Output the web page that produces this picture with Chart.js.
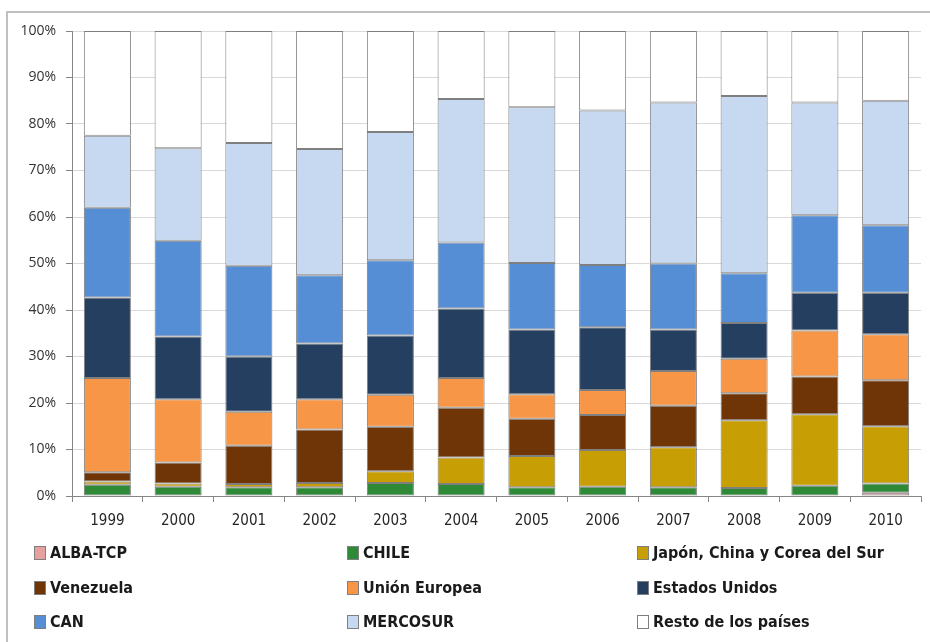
<!DOCTYPE html>
<html lang="es">
<head>
<meta charset="utf-8">
<title>Destino de las exportaciones</title>
<script src="https://cdn.jsdelivr.net/npm/chart.js@4"></script>
<style>
    html, body {
        margin: 0;
        padding: 0;
        background: #ffffff;
    }

    #marco {
        position: absolute;
        left: 6px;
        top: 11px;
        width: 940px;
        height: 650px;
        border-left: 2px solid #c0c0c0;
        border-top: 2px solid #c0c0c0;
    }

    #contenedor {
        position: absolute;
        left: 0;
        top: 0;
        width: 930px;
        height: 560px;
    }

    #leyenda {
        position: absolute;
        left: 0;
        top: 540px;
        width: 930px;
        height: 100px;
        font-family: "Liberation Sans Narrow", "DejaVu Sans Condensed", sans-serif;
        font-weight: bold;
        font-size: 16px;
        color: #1a1a1a;
    }

    .item {
        position: absolute;
        display: flex;
        align-items: center;
        white-space: nowrap;
    }

    .cuadro {
        width: 10px;
        height: 12px;
        border: 1px solid #7f7f7f;
        margin-right: 4px;
    }
</style>
</head>
<body>
<div id="marco"></div>
<div id="contenedor"><canvas id="graficoDestinos"></canvas></div>
<div id="leyenda"></div>

<script>
const anios = ["1999", "2000", "2001", "2002", "2003", "2004", "2005", "2006", "2007", "2008", "2009", "2010"];

const albaTcp      = [0, 0, 0, 0, 0, 0, 0, 0, 0, 0, 0, 0.7];
const chile        = [2.4, 2.0, 1.9, 1.9, 2.8, 2.6, 1.9, 2.0, 1.9, 1.7, 2.2, 2.0];
const asia         = [0.7, 0.7, 0.7, 0.9, 2.5, 5.7, 6.7, 7.9, 8.6, 14.6, 15.4, 12.3];
const venezuela    = [2.0, 4.5, 8.2, 11.5, 9.6, 10.7, 8.0, 7.5, 8.9, 5.8, 8.1, 9.9];
const unionEuropea = [20.3, 13.6, 7.3, 6.5, 6.9, 6.4, 5.3, 5.4, 7.5, 7.4, 9.9, 9.9];
const estadosUnidos = [17.3, 13.5, 11.9, 12.0, 12.7, 14.9, 13.9, 13.5, 8.9, 7.7, 8.1, 8.9];
const can          = [19.3, 20.6, 19.5, 14.7, 16.2, 14.2, 14.3, 13.4, 14.2, 10.7, 16.7, 14.5];
const mercosur     = [15.5, 19.9, 26.4, 27.1, 27.6, 30.9, 33.5, 33.2, 34.6, 38.1, 24.2, 26.8];
const resto        = [22.5, 25.2, 24.1, 25.4, 21.7, 14.6, 16.4, 17.1, 15.4, 14.0, 15.4, 15.0];

const nombresSeries = [
    "ALBA-TCP", "CHILE", "Japón, China y Corea del Sur",
    "Venezuela", "Unión Europea", "Estados Unidos",
    "CAN", "MERCOSUR", "Resto de los países"
];

const valoresSeries = [albaTcp, chile, asia, venezuela, unionEuropea, estadosUnidos, can, mercosur, resto];

const coloresSeries = [
    "#e6a0a0", "#2f8a37", "#c89e05",
    "#6f3506", "#f79646", "#243f60",
    "#558ed5", "#c6d9f1", "#ffffff"
];

const ticksPorcentaje = ["0%", "10%", "20%", "30%", "40%", "50%", "60%", "70%", "80%", "90%", "100%"];

crearGrafico();
crearLeyenda();

function crearGrafico() {
    const datasets = nombresSeries.map((nombre, i) => ({
        label: nombre,
        data: valoresSeries[i],
        backgroundColor: coloresSeries[i],
        borderColor: "#7f7f7f",
        borderWidth: 1,
        borderSkipped: false,
        categoryPercentage: 1,
        barPercentage: 0.665
    }));

    new Chart(document.getElementById("graficoDestinos"), {
        type: "bar",
        data: {
            labels: anios,
            datasets: datasets
        },
        options: {
            responsive: true,
            maintainAspectRatio: false,
            animation: false,
            layout: {
                padding: { top: 31, right: 9, left: 0, bottom: 0 }
            },
            plugins: {
                legend: { display: false },
                tooltip: { enabled: false }
            },
            scales: {
                x: {
                    stacked: true,
                    afterFit: escala => { escala.height = 64; },
                    grid: {
                        display: true,
                        offset: true,
                        drawOnChartArea: false,
                        drawTicks: true,
                        tickLength: 6,
                        color: "#868686"
                    },
                    border: { color: "#868686", width: 1 },
                    ticks: {
                        color: "#262626",
                        padding: 10,
                        font: { family: "'Liberation Sans Narrow', 'DejaVu Sans Condensed', sans-serif", size: 15 }
                    }
                },
                y: {
                    stacked: true,
                    min: 0,
                    max: 100,
                    afterFit: escala => { escala.width = 72; },
                    grid: {
                        color: "#d9d9d9",
                        tickLength: 6,
                        tickColor: "#868686"
                    },
                    border: { color: "#868686", width: 1 },
                    ticks: {
                        stepSize: 10,
                        color: "#333333",
                        padding: 10,
                        font: { family: "'Open Sans', 'DejaVu Sans', sans-serif", size: 14 },
                        callback: (valor, indice) => ticksPorcentaje[indice]
                    }
                }
            }
        }
    });
}

function crearLeyenda() {
    const leyenda = document.getElementById("leyenda");
    const columnas = [34, 347, 637];
    const filas = [3, 38, 72];

    nombresSeries.forEach((nombre, i) => {
        const item = document.createElement("div");
        item.className = "item";
        item.style.left = columnas[i % 3] + "px";
        item.style.top = filas[Math.floor(i / 3)] + "px";

        const cuadro = document.createElement("span");
        cuadro.className = "cuadro";
        cuadro.style.background = coloresSeries[i];

        const texto = document.createElement("span");
        texto.textContent = nombre;

        item.appendChild(cuadro);
        item.appendChild(texto);
        leyenda.appendChild(item);
    });
}
</script>
</body>
</html>
